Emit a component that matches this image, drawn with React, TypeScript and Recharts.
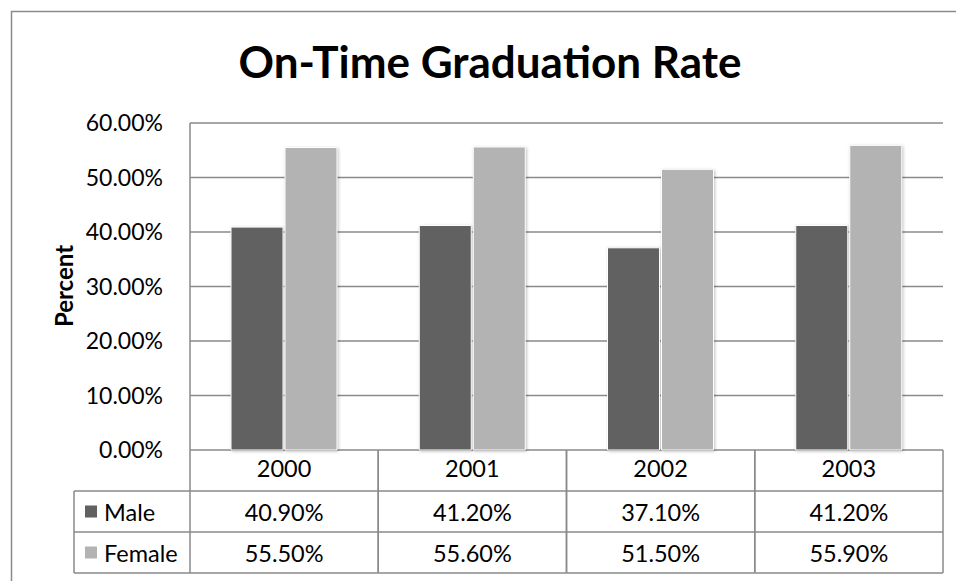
import React from "react";
import { BarChart, Bar, XAxis, YAxis, CartesianGrid } from "recharts";

const years = ["2000", "2001", "2002", "2003"];
const maleRates = [40.9, 41.2, 37.1, 41.2];
const femaleRates = [55.5, 55.6, 51.5, 55.9];
const yTicks = [0, 10, 20, 30, 40, 50, 60];

const data = years.map((year, i) => ({
  year,
  male: maleRates[i],
  female: femaleRates[i],
}));

const MALE = "#616161";
const FEMALE = "#b3b3b3";
const LINE = "#8a8a8a";
const FONT = "Lato, 'Open Sans', sans-serif";

const PLOT_LEFT = 190;
const PLOT_RIGHT = 943;
const BAND = (PLOT_RIGHT - PLOT_LEFT) / years.length;
const ROW = 41;
const LEGEND_LEFT = 74;

const fmt = (v: number) => `${v.toFixed(2)}%`;

// data table under the plot, one column per category tick
const TableTick = (props: any) => {
  const { x, y, index, payload } = props;
  const l = x - BAND / 2;
  const r = x + BAND / 2;
  const rowMid = (k: number) => y + ROW * k + ROW / 2;
  const txt = { fontFamily: FONT, fontSize: 23.5, fill: "#000" };
  return (
    <g>
      <line x1={l} x2={r} y1={y + ROW} y2={y + ROW} stroke={LINE} strokeWidth={1.5} />
      <line x1={l} x2={r} y1={y + ROW * 2} y2={y + ROW * 2} stroke={LINE} strokeWidth={1.5} />
      <line x1={l} x2={r} y1={y + ROW * 3} y2={y + ROW * 3} stroke={LINE} strokeWidth={1.5} />
      <line x1={r} x2={r} y1={y} y2={y + ROW * 3} stroke={LINE} strokeWidth={1.5} />
      <line x1={l} x2={l} y1={y} y2={y + ROW * 3} stroke={LINE} strokeWidth={1.5} />
      <text x={x} y={rowMid(0) - 3} textAnchor="middle" dominantBaseline="central" {...txt}>
        {payload.value}
      </text>
      <text x={x} y={rowMid(1)} textAnchor="middle" dominantBaseline="central" {...txt}>
        {fmt(maleRates[index])}
      </text>
      <text x={x} y={rowMid(2)} textAnchor="middle" dominantBaseline="central" {...txt}>
        {fmt(femaleRates[index])}
      </text>
      {index === 0 && (
        <g>
          <line x1={LEGEND_LEFT} x2={l} y1={y + ROW} y2={y + ROW} stroke={LINE} strokeWidth={1.5} />
          <line x1={LEGEND_LEFT} x2={l} y1={y + ROW * 2} y2={y + ROW * 2} stroke={LINE} strokeWidth={1.5} />
          <line x1={LEGEND_LEFT} x2={l} y1={y + ROW * 3} y2={y + ROW * 3} stroke={LINE} strokeWidth={1.5} />
          <line x1={LEGEND_LEFT} x2={LEGEND_LEFT} y1={y + ROW} y2={y + ROW * 3} stroke={LINE} strokeWidth={1.5} />
          <rect x={85} y={rowMid(1) - 6} width={12} height={12} fill={MALE} />
          <rect x={85} y={rowMid(2) - 6} width={12} height={12} fill={FEMALE} />
          <text x={104} y={rowMid(1)} dominantBaseline="central" {...txt}>
            Male
          </text>
          <text x={104} y={rowMid(2)} dominantBaseline="central" {...txt}>
            Female
          </text>
        </g>
      )}
    </g>
  );
};

const barStyle = { filter: "drop-shadow(1px 1px 1.5px rgba(0,0,0,0.25))" };

export default function App() {
  return (
    <div style={{ position: "absolute", left: 0, top: 0, width: 956, height: 581, background: "#fff", overflow: "hidden" }}>
      <svg
        width={956}
        height={581}
        style={{ position: "absolute", left: 0, top: 0, pointerEvents: "none" }}
      >
        <rect x={11.5} y={11.5} width={1000} height={1000} fill="none" stroke="#8a8a8a" strokeWidth={1.5} />
        <text
          x={490}
          y={78}
          textAnchor="middle"
          fontFamily={FONT}
          fontWeight="bold"
          fontSize={44}
          fill="#000"
        >
          On-Time Graduation Rate
        </text>
        <text
          x={0}
          y={0}
          transform="translate(63,286) rotate(-90)"
          textAnchor="middle"
          dominantBaseline="central"
          fontFamily={FONT}
          fontWeight="bold"
          fontSize={24}
          fill="#000"
        >
          Percent
        </text>
      </svg>
      <div style={{ position: "absolute", left: 0, top: 0 }}>
        <BarChart
          width={956}
          height={581}
          data={data}
          margin={{ top: 123, right: 956 - PLOT_RIGHT, bottom: 8, left: 0 }}
          barCategoryGap={41}
          barGap={2}
        >
          <CartesianGrid vertical={false} stroke={LINE} strokeWidth={1.5} />
          <XAxis
            dataKey="year"
            height={123}
            axisLine={false}
            tickLine={false}
            tickSize={0}
            tickMargin={0}
            interval={0}
            tick={<TableTick />}
          />
          <YAxis
            width={PLOT_LEFT}
            domain={[0, 60]}
            ticks={yTicks}
            tickFormatter={fmt}
            axisLine={{ stroke: LINE, strokeWidth: 1.5 }}
            tickLine={false}
            tickSize={0}
            tickMargin={27}
            tick={{ fontFamily: FONT, fontSize: 23, fill: "#000" }}
          />
          <Bar dataKey="male" fill={MALE} stroke="#fff" strokeWidth={1} style={barStyle} isAnimationActive={false} />
          <Bar dataKey="female" fill={FEMALE} stroke="#fff" strokeWidth={1} style={barStyle} isAnimationActive={false} />
        </BarChart>
      </div>
    </div>
  );
}
